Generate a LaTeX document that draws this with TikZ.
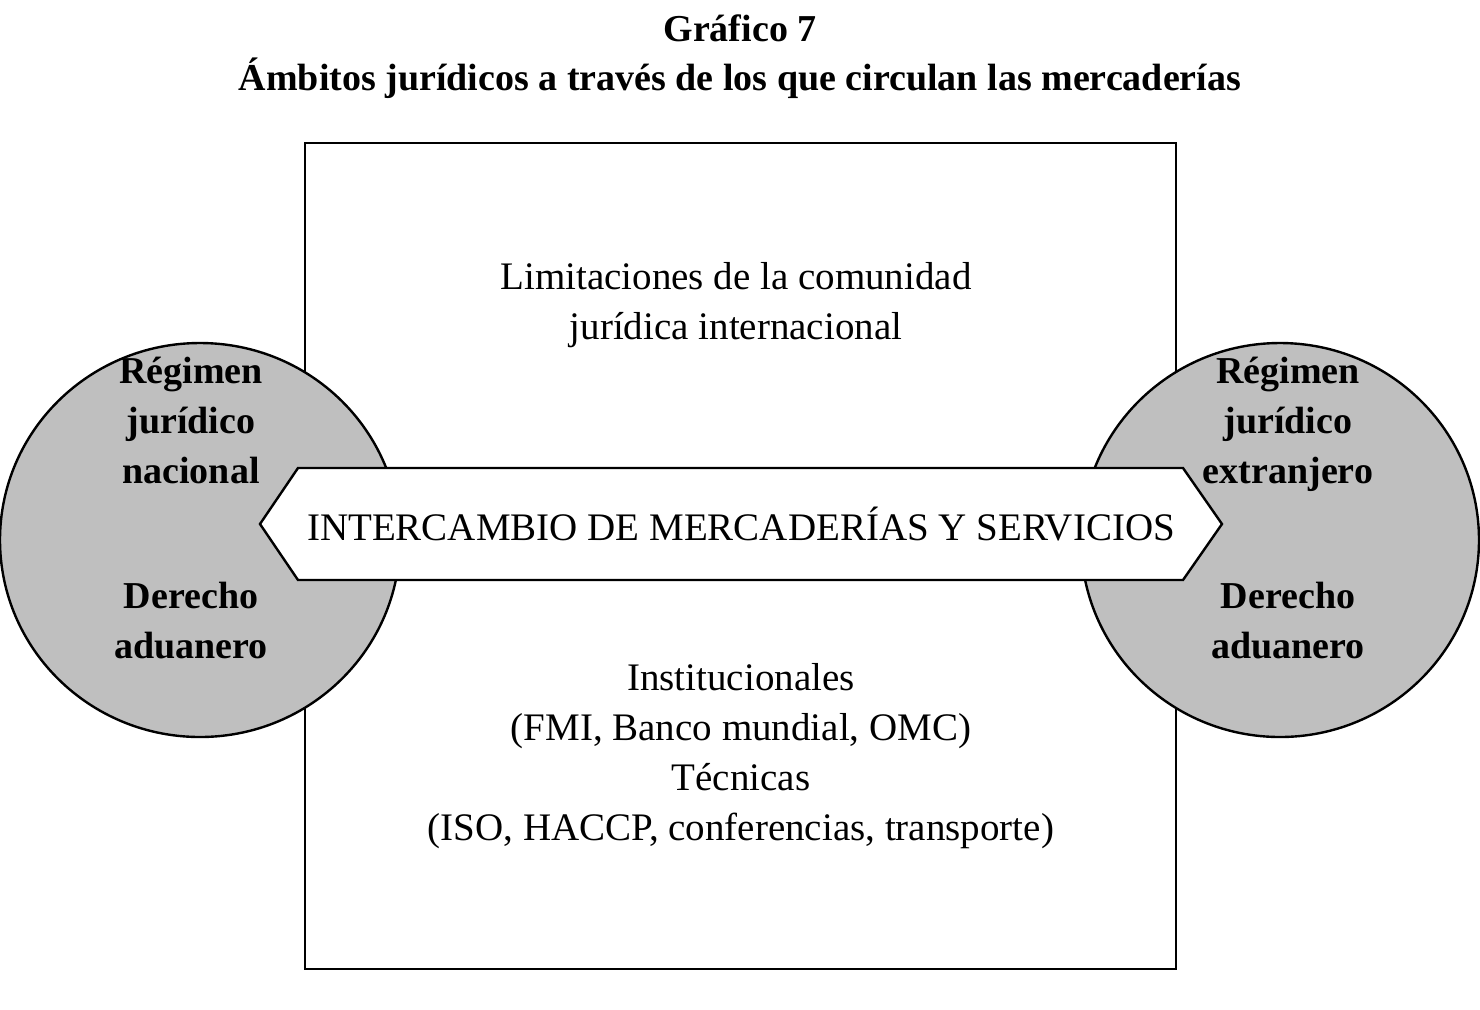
\documentclass[tikz,border=0pt]{standalone}
\usepackage{fontspec}
\setmainfont{Liberation Serif}
\begin{document}
\begin{tikzpicture}[x=0.5pt,y=-0.5pt,
  txt/.style={font=\fontsize{19.5}{25}\selectfont,align=center},
  btxt/.style={font=\fontsize{19}{25}\selectfont\bfseries,align=center},
  line/.style={draw=black,line width=1.2pt}]
\useasboundingbox (0,0) rectangle (1480,1009);
\node[btxt] (t1) at (740,28) {Gráfico 7};
\node[btxt] (t2) at (740,78) {Ámbitos jurídicos a través de los que circulan las mercaderías};
\draw[line] (305,143) rectangle (1176,969);
\draw[line,fill=black!25] (200,540) ellipse [x radius=200, y radius=197];
\draw[line,fill=black!25] (1280,540) ellipse [x radius=199, y radius=197];
\draw[line,fill=white] (260,524) -- (298,468) -- (1183,468) -- (1222,524) -- (1183,580) -- (298,580) -- cycle;
\node[txt] (ex) at (741,524) {INTERCAMBIO DE MERCADERÍAS Y SERVICIOS};
\node[txt] (lim) at (736,305) {Limitaciones de la comunidad\\jurídica internacional};
\node[txt] (ins) at (741,756) {Institucionales\\(FMI, Banco mundial, OMC)\\Técnicas\\(ISO, HACCP, conferencias, transporte)};
\node[btxt,anchor=north] (rn) at (191,350) {Régimen\\jurídico\\nacional};
\node[btxt,anchor=north] (dn) at (191,575) {Derecho\\aduanero};
\node[btxt,anchor=north] (re) at (1288,350) {Régimen\\jurídico\\extranjero};
\node[btxt,anchor=north] (de) at (1288,575) {Derecho\\aduanero};
\end{tikzpicture}
\end{document}
